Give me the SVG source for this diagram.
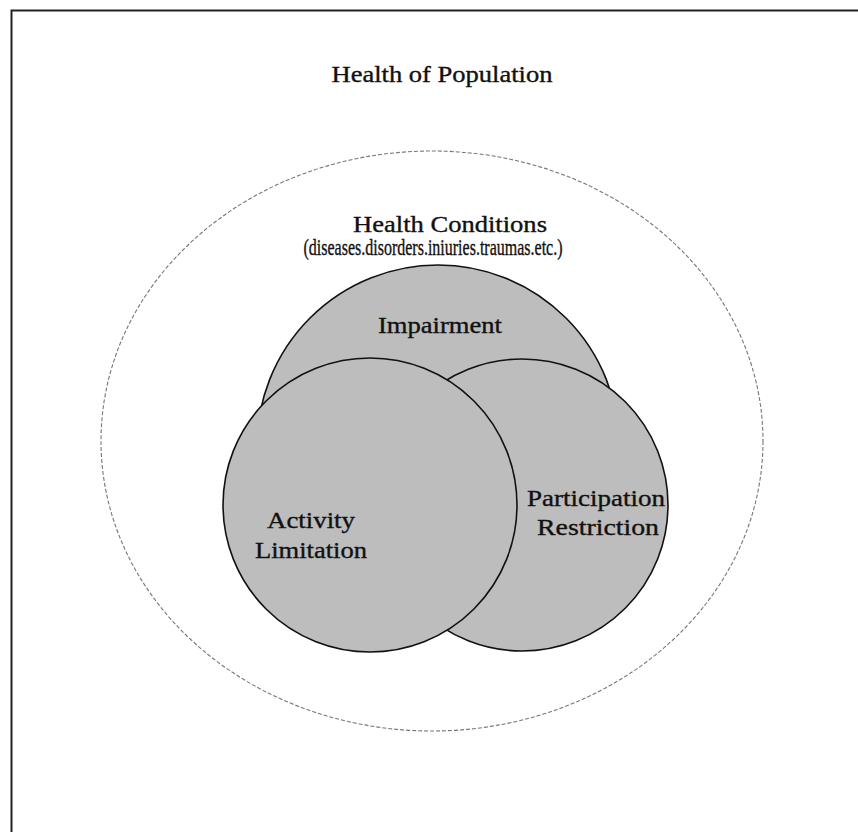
<svg xmlns="http://www.w3.org/2000/svg" width="858" height="832" viewBox="0 0 858 832">
  <style>
    .lbl { font-family: "Liberation Serif", "Times New Roman", serif; fill: #111; stroke: #111; stroke-width: 0.35; text-anchor: middle; }
    .big { font-size: 23px; }
    .set { fill: #bdbdbd; stroke: #111; stroke-width: 1.6; }
  </style>
  <rect x="0" y="0" width="858" height="832" fill="#fff"/>
  <g id="frame">
    <path d="M11.5 832 V10.5 H858" fill="none" stroke="#222" stroke-width="2"/>
  </g>
  <g id="population">
    <text class="lbl big" x="442" y="82" textLength="221" lengthAdjust="spacingAndGlyphs">Health of Population</text>
  </g>
  <g id="health-conditions">
    <ellipse cx="432" cy="441" rx="331" ry="290" fill="none" stroke="#777" stroke-width="1.1" stroke-dasharray="4 2"/>
    <text class="lbl big" x="450" y="232" textLength="194" lengthAdjust="spacingAndGlyphs">Health Conditions</text>
    <text class="lbl big" x="433" y="255" textLength="259" lengthAdjust="spacingAndGlyphs">(diseases.disorders.iniuries.traumas.etc.)</text>
  </g>
  <g id="impairment">
    <circle class="set" cx="438" cy="446" r="181"/>
    <text class="lbl big" x="440" y="333" textLength="124" lengthAdjust="spacingAndGlyphs">Impairment</text>
  </g>
  <g id="participation">
    <circle class="set" cx="522" cy="505" r="146"/>
    <text class="lbl big" x="596" y="506" textLength="138" lengthAdjust="spacingAndGlyphs">Participation</text>
    <text class="lbl big" x="598" y="535" textLength="122" lengthAdjust="spacingAndGlyphs">Restriction</text>
  </g>
  <g id="activity">
    <circle class="set" cx="370" cy="505" r="147"/>
    <text class="lbl big" x="311" y="528" textLength="88" lengthAdjust="spacingAndGlyphs">Activity</text>
    <text class="lbl big" x="311" y="558" textLength="112" lengthAdjust="spacingAndGlyphs">Limitation</text>
  </g>
  <g id="connectors"/>
</svg>
